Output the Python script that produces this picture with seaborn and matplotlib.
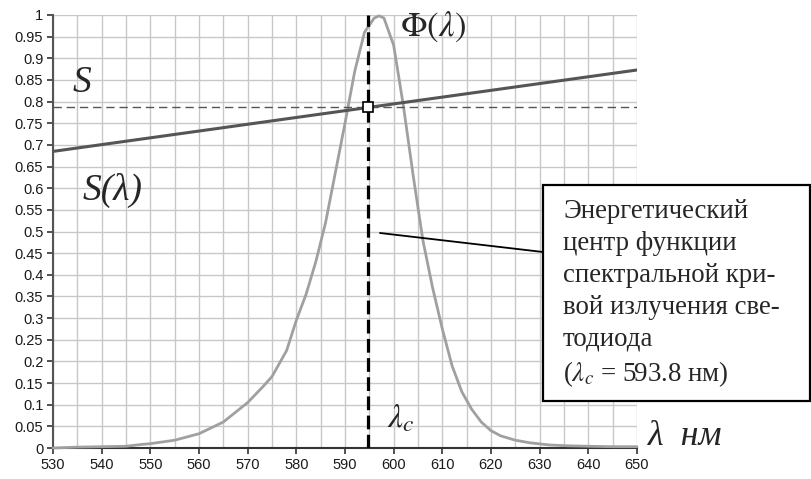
import numpy as np
import pandas as pd
import seaborn as sns
import matplotlib.pyplot as plt
from matplotlib.patches import Rectangle

# spectral curve of the LED
phi_wl = [530, 535, 540, 545, 548, 550, 555, 560, 565, 570, 573, 575, 578, 580,
          582, 584, 586, 588, 590, 592, 594, 596, 597, 598, 600, 602, 604, 606,
          608, 610, 612, 614, 616, 618, 620, 622, 625, 628, 632, 636, 640, 645, 650]
phi_val = [0.0, 0.002, 0.003, 0.004, 0.008, 0.010, 0.018, 0.033, 0.060, 0.105,
           0.140, 0.165, 0.225, 0.295, 0.355, 0.43, 0.52, 0.635, 0.75, 0.87, 0.96,
           0.993, 0.998, 0.993, 0.93, 0.79, 0.63, 0.48, 0.37, 0.275, 0.19, 0.13,
           0.09, 0.06, 0.04, 0.028, 0.018, 0.012, 0.007, 0.005, 0.004, 0.003, 0.003]

# sensitivity line S(lambda)
s_wl = [530, 650]
s_val = [0.685, 0.873]

lambda_c = 594.8
s_c = 0.787

x_ticks = np.arange(530, 651, 10)
y_ticks = np.arange(0, 1.0001, 0.05)
y_labels = ['0' if v == 0 else ('1' if v == 1 else f'{v:.2f}'.rstrip('0')) for v in y_ticks]

sns.set_theme(style="whitegrid")
plt.rcParams['font.family'] = ['Liberation Sans', 'DejaVu Sans']
plt.rcParams['mathtext.fontset'] = 'stix'

fig = plt.figure(figsize=(8.11, 4.79), dpi=100)
ax = fig.add_axes([53 / 811, 31 / 479, 584 / 811, 433 / 479])
ax.set_facecolor('white')

df_phi = pd.DataFrame({'wl': phi_wl, 'val': phi_val})
df_s = pd.DataFrame({'wl': s_wl, 'val': s_val})

sns.lineplot(data=df_phi, x='wl', y='val', ax=ax, color='#a0a0a0', linewidth=2.0,
             zorder=3, clip_on=False)
sns.lineplot(data=df_s, x='wl', y='val', ax=ax, color='#555555', linewidth=2.2, zorder=4)

ax.axhline(s_c, color='#555555', linewidth=1.0, dashes=(6, 3.5), zorder=3)
ax.plot([lambda_c, lambda_c], [0, 1], color='black', linewidth=2.3,
        dashes=(4.3, 1.7), zorder=5)
ax.plot([lambda_c], [s_c], marker='s', markersize=7, markerfacecolor='white',
        markeredgecolor='black', markeredgewidth=1.2, zorder=6)

ax.set_xlim(530, 650)
ax.set_ylim(0, 1)
ax.set_xticks(x_ticks)
ax.set_xticks(np.arange(530, 651, 5), minor=True)
ax.set_yticks(y_ticks)
ax.set_yticklabels(y_labels)
ax.grid(True, which='both', color='#c8c8c8', linewidth=1.0)
ax.set_xlabel('')
ax.set_ylabel('')
for side in ['top', 'right']:
    ax.spines[side].set_visible(False)
ax.spines['left'].set_color('#555555')
ax.spines['left'].set_linewidth(1.5)
ax.spines['bottom'].set_color('#333333')
ax.spines['bottom'].set_linewidth(1.5)
ax.tick_params(axis='both', which='major', direction='out', length=4, width=1.2,
               colors='#333333', labelsize=10.5, labelcolor='#1a1a1a', pad=3,
               left=True, bottom=True)
ax.tick_params(axis='x', which='minor', length=0)

serif = 'Liberation Serif'
ax.text(534.1, 0.822, 'S', fontsize=27, family=serif, style='italic',
        ha='left', va='baseline', zorder=7)
ax.text(536.0, 0.573, 'S(λ)', fontsize=27, family=serif, style='italic',
        ha='left', va='baseline', zorder=7)
ax.text(601.3, 0.951, r'$\Phi(\lambda)$', fontsize=25, ha='left', va='baseline', zorder=7)
ax.text(598.6, 0.047, r'$\lambda_c$', fontsize=24, ha='left', va='baseline', zorder=7)
ax.text(652.3, 0.007, 'λ  нм', fontsize=26, family=serif, style='italic',
        ha='left', va='baseline', clip_on=False, zorder=7)

# annotation box with leader line
box_l, box_r, box_t, box_b = 543, 810, 185, 401
fig.add_artist(Rectangle((box_l / 811, 1 - box_b / 479), (box_r - box_l) / 811,
                         (box_b - box_t) / 479, transform=fig.transFigure,
                         facecolor='white', edgecolor='black', linewidth=1.6, zorder=10))
fig.add_artist(plt.Line2D([380 / 811, box_l / 811], [1 - 233 / 479, 1 - 252 / 479],
                          transform=fig.transFigure, color='black', linewidth=1.3, zorder=9))
fig.text(563 / 811, 1 - 199 / 479,
         'Энергетический\nцентр функции\nспектральной кри-\nвой излучения све-\nтодиода\n'
         r'($\lambda_c$ = 593.8 нм)',
         fontsize=19.4, family=serif, ha='left', va='top', linespacing=1.36, zorder=11)

fig.savefig('out.png', dpi=100)
